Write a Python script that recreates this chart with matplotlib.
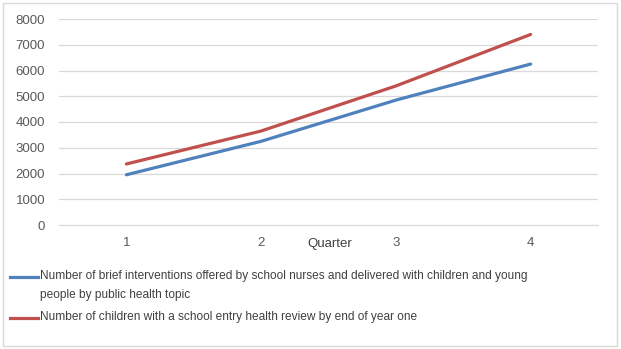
import matplotlib.pyplot as plt
from matplotlib.lines import Line2D
from matplotlib.patches import Rectangle

quarters = [1, 2, 3, 4]
brief_interventions = [1950, 3250, 4850, 6250]
school_entry_reviews = [2370, 3650, 5400, 7400]

label_brief = ("Number of brief interventions offered by school nurses and delivered with children and young\n"
               "people by public health topic")
label_entry = "Number of children with a school entry health review by end of year one"
blue = '#4F81BD'
red = '#C0504D'

plt.rcParams['font.family'] = ['Liberation Sans', 'DejaVu Sans']

W, H = 621, 349
fig = plt.figure(figsize=(W / 100, H / 100), dpi=100)
ax = fig.add_axes([59 / W, 1 - 225 / H, (598 - 59) / W, (225 - 19) / H])

ax.plot(quarters, brief_interventions, color=blue, lw=2.3, solid_capstyle='round')
ax.plot(quarters, school_entry_reviews, color=red, lw=2.3, solid_capstyle='round')

ax.set_xlim(0.5, 4.5)
ax.set_ylim(0, 8000)
ax.set_yticks(range(0, 8001, 1000))
ax.set_xticks(quarters)
ax.grid(axis='y', color='#D9D9D9', lw=0.9)
ax.set_axisbelow(True)
for side in ['top', 'right', 'left']:
    ax.spines[side].set_visible(False)
ax.spines['bottom'].set_color('#D9D9D9')
ax.tick_params(length=0, labelsize=9.5, colors='#595959', pad=9)
ax.tick_params(axis='y', pad=10)

fig.text(330 / W, 1 - 244 / H, 'Quarter', ha='center', va='center', fontsize=9.5, color='#404040')

# legend drawn by hand so the handle sits on the first text line
for y_px, color, label in [(277, blue, label_brief), (318, red, label_entry)]:
    fig.add_artist(Line2D([10 / W, 38 / W], [1 - y_px / H] * 2, transform=fig.transFigure,
                          color=color, lw=2.3))
    fig.text(40 / W, 1 - (y_px - 7) / H, label, ha='left', va='top', fontsize=8.6,
             color='#404040', linespacing=1.75)

# outer chart border
fig.add_artist(Rectangle((3 / W, 3 / H), 614 / W, 343 / H, transform=fig.transFigure,
                         fill=False, edgecolor='#D9D9D9', lw=1))

fig.savefig('out.png', dpi=100)
